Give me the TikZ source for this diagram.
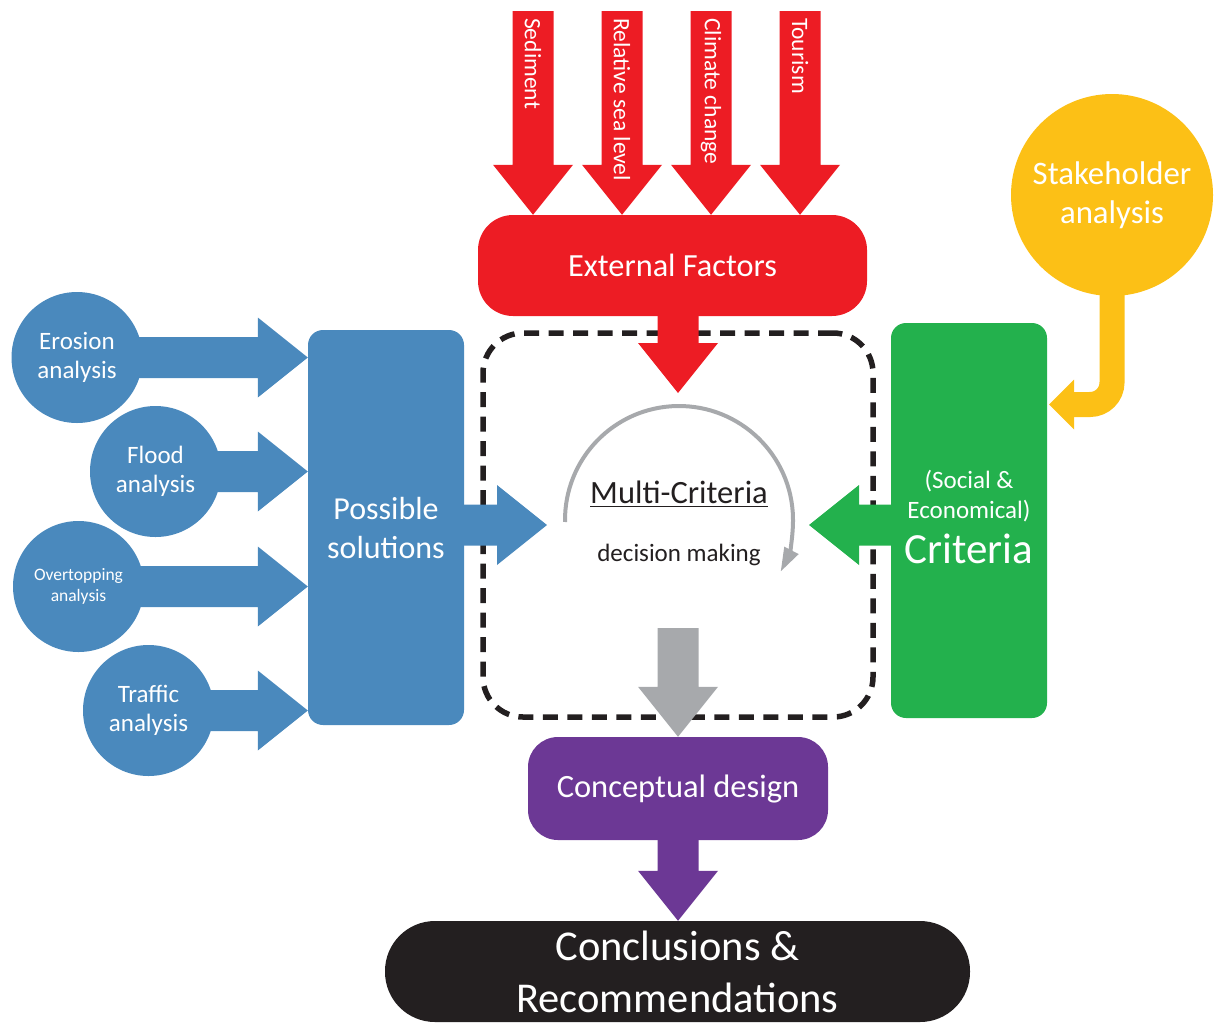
\documentclass[tikz,border=0pt]{standalone}
\usepackage{fontspec}
\setmainfont{Carlito}
\usetikzlibrary{calc,arrows.meta}

\definecolor{cRed}{RGB}{237,28,36}
\definecolor{cBlue}{RGB}{74,137,189}
\definecolor{cGreen}{RGB}{35,177,77}
\definecolor{cYellow}{RGB}{252,192,22}
\definecolor{cPurple}{RGB}{108,56,149}
\definecolor{cDark}{RGB}{35,31,32}
\definecolor{cGray}{RGB}{167,169,172}

\pgfdeclarelayer{framelayer}
\pgfdeclarelayer{arrowlayer}
\pgfsetlayers{framelayer,arrowlayer,main}

\tikzset{
  shaft half/.store in=\arShaft,
  head half/.store in=\arHead,
  head len/.store in=\arLen,
  shaft half=20.5pt, head half=40pt, head len=50pt,
  fs/.style 2 args={font=\fontsize{#1}{#2}\selectfont},
  box/.style={rectangle, inner sep=0pt, text=white, align=center},
  blob/.style={circle, inner sep=0pt, minimum size=131pt, fill=cBlue, text=white, align=center},
  factor/.style={rotate=-90, anchor=west, inner sep=0pt, text=white, fs={23.5}{28}},
  plain/.style={inner sep=0pt, anchor=base},
}

% block arrow from #2 (start of shaft) to #3 (tip)
\newcommand\blockarrow[3][]{%
  \fill[#1] let \p1=#2, \p2=#3, \p3=($(\p2)!\arLen!(\p1)$) in
    ($(\p1)!\arShaft!90:(\p2)$) -- ($(\p3)!\arShaft!90:(\p2)$) -- ($(\p3)!\arHead!90:(\p2)$)
    -- (\p2) -- ($(\p3)!\arHead!-90:(\p2)$) -- ($(\p3)!\arShaft!-90:(\p2)$)
    -- ($(\p1)!\arShaft!-90:(\p2)$) -- cycle;}

\begin{document}
\begin{tikzpicture}[x=1pt,y=1pt]
\useasboundingbox (0,0) rectangle (1214,-1023);

% dashed decision frame
\begin{pgfonlayer}{framelayer}
\node[draw=cDark, line width=5.5pt, dash pattern=on 15pt off 9.5pt, rounded corners=40pt,
      minimum width=390pt, minimum height=384pt, inner sep=0pt] (frame) at (678,-525) {};
\end{pgfonlayer}

% main blocks
\node[box, fill=cRed, minimum width=389pt, minimum height=101pt, rounded corners=35pt, fs={32.3}{38}]
  (ext) at (672.5,-265.5) {External Factors};
\node[box, fill=cBlue, minimum width=156pt, minimum height=395pt, rounded corners=15pt, fs={32}{39}]
  (sol) at (386,-527.5) {Possible\\solutions};
\node[box, fill=cGreen, minimum width=156pt, minimum height=395pt, rounded corners=15pt]
  (crit) at (969,-520.5) {};
\node[plain, text=white, fs={25}{30}] (critA) at (969,-488) {(Social \&};
\node[plain, text=white, fs={25}{30}] (critB) at (969,-518) {Economical)};
\node[plain, text=white, fs={43}{46}] (critC) at (969,-563) {Criteria};
\node[box, fill=cPurple, minimum width=300pt, minimum height=103pt, rounded corners=30pt, fs={32.5}{38}]
  (des) at (678,-788.5) {Conceptual design};
\node[box, fill=cDark, minimum width=585pt, minimum height=101pt, rounded corners=50pt, fs={42.5}{52}]
  (conc) at (677.5,-971.5) {Conclusions \&\\Recommendations};

% analyses
\node[blob, fs={25}{29}] (ero) at (77,-357.5) {Erosion\\analysis};
\node[blob, fs={25}{29}] (flood) at (155.5,-471.5) {Flood\\analysis};
\node[blob, fs={17.5}{21}] (over) at (78.5,-586.5) {Overtopping\\analysis};
\node[blob, fs={25}{29}] (traf) at (148.5,-710.5) {Traffic\\analysis};
\node[circle, inner sep=0pt, minimum size=202pt, fill=cYellow, text=white, align=center, fs={32.8}{39}]
  (stake) at (1112,-195) {Stakeholder\\analysis};

% free ends of the connectors
\coordinate (s1) at (533,-11);
\coordinate (s2) at (622,-11);
\coordinate (s3) at (711,-11);
\coordinate (s4) at (800,-11);
\coordinate (mctop) at (678,-393);
\coordinate (mcl) at (547,-525);
\coordinate (mcr) at (809,-525);
\coordinate (gtop) at (678,-628);
\coordinate (ytip) at ($(crit.east |- 0,-404.5)+(2,0)$);
\coordinate (yb) at ($(ytip)+(25,0)$);
\coordinate (arcc) at (679,-520);

\begin{pgfonlayer}{arrowlayer}
  \blockarrow[cRed]{(s1)}{(s1 |- ext.north)}
  \blockarrow[cRed]{(s2)}{(s2 |- ext.north)}
  \blockarrow[cRed]{(s3)}{(s3 |- ext.north)}
  \blockarrow[cRed]{(s4)}{(s4 |- ext.north)}
  \blockarrow[cRed]{(mctop |- ext.center)}{(mctop)}
  \blockarrow[cBlue]{(sol.center |- mcl)}{(mcl)}
  \blockarrow[cGreen]{(crit.center |- mcr)}{(mcr)}
  \blockarrow[cBlue]{(ero.center)}{(sol.west |- ero.center)}
  \blockarrow[cBlue]{(flood.center)}{(sol.west |- flood.center)}
  \blockarrow[cBlue]{(over.center)}{(sol.west |- over.center)}
  \blockarrow[cBlue]{(traf.center)}{(sol.west |- traf.center)}
  \blockarrow[cGray]{(gtop)}{(des.north)}
  \blockarrow[cPurple]{(des.center)}{(des.center |- conc.north)}
  \draw[cYellow, line width=25pt, rounded corners=22pt] (stake.center) |- (yb);
  \fill[cYellow] (ytip) -- ($(yb)+(0,25)$) -- ($(yb)+(0,-25)$) -- cycle;
\end{pgfonlayer}

% factor labels inside the top arrows
\node[factor] (f1) at (533,-18) {Sediment};
\node[factor] (f2) at (622,-18) {Relative sea level};
\node[factor] (f3) at (711,-18) {Climate change};
\node[factor] (f4) at (800,-18) {Tourism};

% decision loop
\draw[cGray, line width=4pt, -{Triangle[width=15pt,length=24pt]}]
  ($(arcc)+(181:114)$) arc[start angle=181, end angle=-27, radius=114];
\node[plain, text=cDark, fs={32.5}{38}] (mc1) at (679,-503) {Multi-Criteria};
\draw[cDark, line width=1.8pt] ($(mc1.base west)+(0,-3.5)$) -- ($(mc1.base east)+(0,-3.5)$);
\node[plain, text=cDark, fs={25}{29}] (mc2) at (679,-561) {decision making};
\end{tikzpicture}
\end{document}
